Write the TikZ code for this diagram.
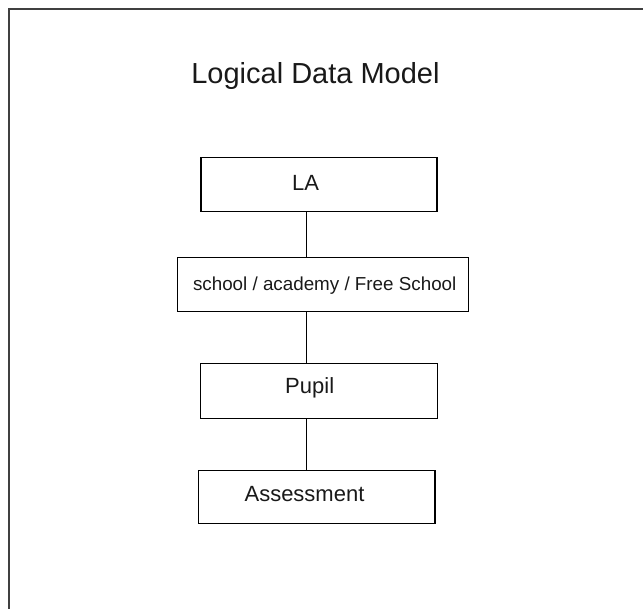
\documentclass[tikz,border=0pt]{standalone}
\usepackage{fontspec}
\setmainfont{Liberation Sans}
\begin{document}
\begin{tikzpicture}[x=1pt,y=-1pt,
  entity/.style={draw=black,line width=1.2pt,inner sep=0pt},
  lbl/.style={anchor=base,inner sep=0pt,text=black!90},
  link/.style={draw=black,line width=1pt}]
\useasboundingbox (0,0) rectangle (643,609);
\draw[line width=2pt,draw=black!75] (9,609) -- (9,9.5) -- (643,9.5);
\node[lbl,font=\fontsize{29}{32}\selectfont] (title) at (315.5,83.3) {Logical Data Model};
\node[entity,minimum width=236pt,minimum height=54.5pt] (la) at (319,184.5) {};
\node[entity,minimum width=291pt,minimum height=54.5pt] (school) at (322.8,284.5) {};
\node[entity,minimum width=236.6pt,minimum height=54.6pt] (pupil) at (319,391) {};
\node[entity,minimum width=236.7pt,minimum height=52.6pt] (assess) at (316.7,497) {};
\node[lbl,font=\fontsize{22}{26}\selectfont] (latext) at (305.5,190.7) {LA};
\node[lbl,font=\fontsize{18.8}{22}\selectfont] (schooltext) at (324.7,290.7) {school / academy / Free School};
\node[lbl,font=\fontsize{22}{26}\selectfont] (pupiltext) at (309.7,394) {Pupil};
\node[lbl,font=\fontsize{22}{26}\selectfont] (assesstext) at (304.5,501.7) {Assessment};
\coordinate (axis) at (306.3,0);
\draw[link] (la.south -| axis) -- (school.north -| axis);
\draw[link] (school.south -| axis) -- (pupil.north -| axis);
\draw[link] (pupil.south -| axis) -- (assess.north -| axis);
\end{tikzpicture}
\end{document}
